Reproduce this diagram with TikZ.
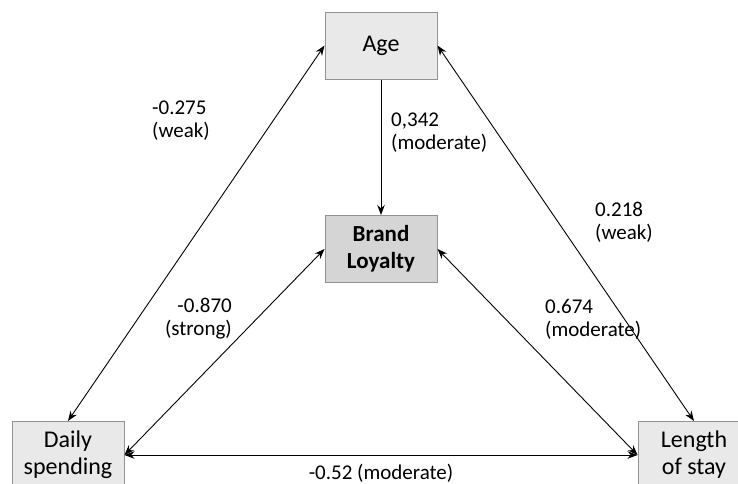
\documentclass[tikz,border=0pt]{standalone}
\usepackage{fontspec}
\setmainfont{Carlito}
\usetikzlibrary{arrows.meta}

\begin{document}
\begin{tikzpicture}[x = 1pt, y = -1pt,
	box/.style = {draw = gray!85, fill = gray!17, line width = 1pt, minimum width = 112pt, minimum height = 67pt, align = center, font = \fontsize{24}{27}\selectfont, inner sep = 0pt},
	keybox/.style = {box, fill = gray!33, font = \fontsize{23}{27}\selectfont\bfseries},
	link/.style = {line width = 0.9pt, {Stealth[length = 10pt, width = 7.5pt]}-{Stealth[length = 10pt, width = 7.5pt]}},
	val/.style = {font = \fontsize{21}{23}\selectfont, inner sep = 0pt}]
	\useasboundingbox (0, 0) rectangle (738, 483);
	
	\node[box] (age) at (381, 45.5) {Age};
	\node[keybox] (loyal) at (381, 249) {Brand\\Loyalty};
	\node[box] (daily) at (68, 455) {Daily\\spending};
	\node[box] (stay) at (694, 455) {Length\\of stay};
	
	\draw[line width = 0.9pt, -{Stealth[length = 10pt, width = 7.5pt]}] (age.south) -- (loyal.north);
	\draw[link] (age.west) -- (daily.north);
	\draw[link] (age.east) -- (stay.north);
	\draw[link] (daily.east) -- (loyal.west);
	\draw[link] (stay.west) -- (loyal.east);
	\draw[link] (daily.east) -- (stay.west);
	
	\node[val, align = left, anchor = west] (v1) at (152, 121) {-0.275\\(weak)};
	\node[val, align = left, anchor = west] (v2) at (391, 133) {0,342\\(moderate)};
	\node[val, align = left, anchor = west] (v3) at (595, 222) {0.218\\(weak)};
	\node[val, align = right, anchor = east] (v4) at (232, 319) {-0.870\\(strong)};
	\node[val, align = left, anchor = west] (v5) at (545, 319) {0.674\\(moderate)};
	\node[val] (v6) at (381, 473) {-0.52 (moderate)};
\end{tikzpicture}
\end{document}
